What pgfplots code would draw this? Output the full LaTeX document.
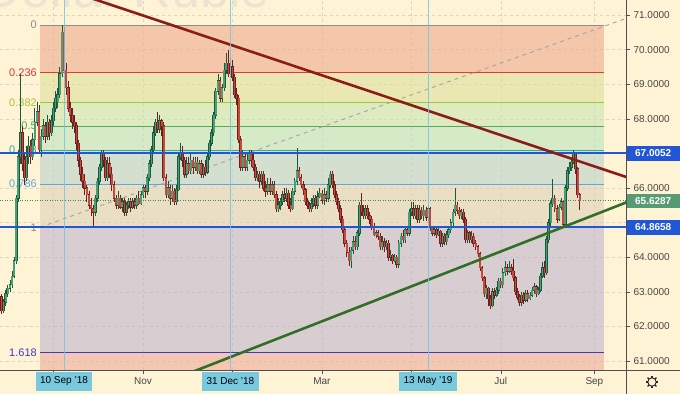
\documentclass[border=0pt]{standalone}
\usepackage{pgfplots}
\pgfplotsset{compat=1.18}
\usepackage{pgfplotstable}
\usetikzlibrary{backgrounds,calc}
\usepackage{fontspec}
\setmainfont{Liberation Sans}
\definecolor{bg}{RGB}{255,243,214}
\definecolor{gridc}{RGB}{220,212,192}
\definecolor{axc}{RGB}{80,80,80}
\definecolor{labc}{RGB}{70,70,70}
\definecolor{wm}{RGB}{236,228,208}
\definecolor{f1}{RGB}{238,171,141}
\definecolor{f2}{RGB}{223,223,157}
\definecolor{f3}{RGB}{200,228,177}
\definecolor{f4}{RGB}{187,228,191}
\definecolor{f5}{RGB}{185,211,204}
\definecolor{f6}{RGB}{220,210,184}
\definecolor{f7}{RGB}{190,180,204}
\definecolor{f8}{RGB}{237,171,157}
\definecolor{l0}{RGB}{140,140,140}
\definecolor{l236}{RGB}{229,57,53}
\definecolor{l382}{RGB}{160,200,50}
\definecolor{l5}{RGB}{76,175,80}
\definecolor{l618}{RGB}{38,176,150}
\definecolor{l786}{RGB}{90,170,225}
\definecolor{l1618}{RGB}{60,60,200}
\definecolor{blueL}{RGB}{33,86,214}
\definecolor{greenD}{RGB}{60,140,90}
\definecolor{greenBox}{RGB}{86,155,115}
\definecolor{cursorC}{RGB}{120,195,230}
\definecolor{dateC}{RGB}{120,200,222}
\definecolor{redT}{RGB}{140,28,22}
\definecolor{greenT}{RGB}{50,110,40}
\definecolor{upF}{RGB}{72,160,122}
\definecolor{upB}{RGB}{28,88,58}
\definecolor{dnF}{RGB}{200,72,58}
\definecolor{dnB}{RGB}{105,32,30}

\pgfplotstableread{
i o h l c
-30 62.85 62.95 62.35 62.45
-29 62.45 62.80 62.40 62.70
-28 62.70 63.05 62.60 62.95
-27 62.95 63.20 62.85 63.10
-26 63.10 63.35 63.00 63.20
-25 63.20 63.60 63.10 63.45
-24 63.45 64.00 63.40 63.90
-23 63.90 65.80 63.80 65.70
-22 65.70 67.10 65.60 66.90
-21 66.90 69.30 66.70 67.60
-20 67.60 67.80 66.50 66.70
-19 66.80 67.00 66.10 66.30
-18 66.30 67.20 66.20 66.90
-17 66.90 67.50 66.70 67.20
-16 67.20 67.40 66.70 66.90
-15 66.90 67.60 66.80 67.40
-14 67.40 68.30 67.20 67.90
-13 67.90 68.50 67.80 68.20
-12 68.20 68.40 67.00 67.10
-11 67.10 67.70 66.90 67.50
-10 67.50 68.00 67.40 67.80
-9 67.80 67.90 67.30 67.50
-8 67.50 68.10 67.40 67.90
-7 67.90 68.00 67.40 67.60
-6 67.60 68.10 67.50 67.95
-5 67.95 68.50 67.80 68.30
-4 68.30 68.80 68.20 68.60
-3 68.50 68.90 68.30 68.70
-2 68.70 69.50 68.60 69.30
-1 69.30 70.71 69.20 70.50
0 70.50 70.65 69.30 69.40
1 69.40 69.60 68.70 68.90
2 68.90 69.10 68.20 68.30
3 68.30 68.50 67.90 68.10
4 68.10 68.30 67.70 67.90
5 67.90 68.10 67.60 67.80
6 67.80 67.90 67.10 67.30
7 67.30 67.40 66.60 66.80
8 66.80 66.90 66.20 66.40
9 66.40 66.60 66.00 66.20
10 66.20 66.40 65.80 66.00
11 66.00 66.10 65.60 65.80
12 65.80 65.90 65.40 65.50
13 65.50 65.70 65.20 65.40
14 65.40 65.50 64.90 65.30
15 65.30 65.80 65.20 65.70
16 65.70 66.30 65.60 66.20
17 66.20 66.70 66.10 66.60
18 66.60 67.10 66.50 67.00
19 67.00 67.10 66.60 66.80
20 66.80 66.90 66.20 66.30
21 66.30 66.90 66.20 66.70
22 66.70 66.90 66.30 66.40
23 66.40 66.60 65.90 66.10
24 66.10 66.20 65.60 65.70
25 65.70 65.80 65.40 65.50
26 65.50 65.90 65.40 65.70
27 65.70 65.80 65.40 65.45
28 65.45 65.70 65.30 65.60
29 65.60 65.70 65.20 65.30
30 65.30 65.60 65.20 65.50
31 65.50 65.70 65.40 65.60
32 65.60 65.70 65.30 65.45
33 65.45 65.70 65.40 65.60
34 65.60 65.70 65.40 65.50
35 65.50 65.80 65.40 65.70
36 65.70 65.90 65.50 65.55
37 65.55 65.90 65.50 65.80
38 65.80 66.10 65.70 66.00
39 66.00 66.10 65.70 65.90
40 65.90 66.40 65.80 66.30
41 66.30 66.80 66.20 66.70
42 66.70 67.20 66.60 67.10
43 67.10 67.80 67.00 67.60
44 67.60 68.00 67.50 67.90
45 67.90 68.20 67.60 67.70
46 67.70 68.10 67.60 67.95
47 67.95 68.00 67.50 67.80
48 67.80 67.90 66.20 66.30
49 66.30 66.40 65.70 65.80
50 65.80 66.20 65.70 66.00
51 66.00 66.10 65.50 65.70
52 65.70 66.10 65.60 65.90
53 65.90 66.00 65.50 65.60
54 65.60 66.10 65.50 65.95
55 65.95 67.00 65.90 66.90
56 66.90 67.30 66.80 67.00
57 67.00 67.20 66.60 66.80
58 66.80 66.90 66.30 66.40
59 66.40 66.90 66.30 66.70
60 66.70 66.90 66.40 66.50
61 66.50 67.00 66.40 66.80
62 66.80 66.90 66.40 66.60
63 66.60 66.90 66.50 66.75
64 66.75 66.90 66.40 66.50
65 66.50 66.80 66.40 66.70
66 66.70 66.80 66.30 66.40
67 66.40 66.70 66.30 66.60
68 66.60 66.80 66.35 66.45
69 66.45 67.00 66.40 66.90
70 66.90 67.40 66.80 67.30
71 67.30 67.70 67.20 67.60
72 67.60 68.20 67.50 68.10
73 68.10 68.90 68.00 68.80
74 68.80 69.30 68.70 69.10
75 69.10 69.20 68.50 68.60
76 68.60 69.00 68.50 68.90
77 68.90 69.60 68.80 69.40
78 69.40 69.90 69.30 69.60
79 69.60 70.00 69.20 69.30
80 69.30 69.80 69.20 69.50
81 69.50 69.70 69.10 69.20
82 69.20 69.30 68.60 68.70
83 68.70 68.90 68.40 68.60
84 68.60 68.70 67.30 67.40
85 67.40 67.50 66.50 66.60
86 66.60 67.10 66.50 66.90
87 66.90 67.00 66.50 66.60
88 66.60 67.00 66.50 66.80
89 66.80 67.10 66.70 67.00
90 67.00 67.10 66.60 66.80
91 66.80 67.00 66.50 66.60
92 66.60 66.70 66.20 66.30
93 66.30 66.50 66.20 66.40
94 66.40 66.50 66.00 66.20
95 66.20 66.50 66.10 66.40
96 66.40 66.50 65.90 66.00
97 66.00 66.20 65.75 65.90
98 65.90 66.30 65.80 66.10
99 66.10 66.30 65.80 65.90
100 65.90 66.20 65.80 66.10
101 66.10 66.20 65.70 65.80
102 65.80 65.90 65.30 65.40
103 65.40 65.70 65.30 65.50
104 65.50 65.70 65.35 65.60
105 65.60 65.90 65.50 65.80
106 65.80 66.00 65.60 65.70
107 65.70 66.00 65.60 65.85
108 65.85 65.95 65.40 65.50
109 65.50 65.70 65.30 65.40
110 65.40 66.00 65.35 65.90
111 65.90 66.30 65.80 66.20
112 66.20 67.15 66.10 66.50
113 66.50 66.60 66.20 66.30
114 66.30 66.40 66.00 66.10
115 66.10 66.20 65.80 65.95
116 65.95 66.00 65.50 65.60
117 65.60 65.70 65.40 65.50
118 65.50 65.60 65.30 65.40
119 65.40 65.70 65.30 65.55
120 65.55 65.80 65.45 65.70
121 65.70 65.80 65.40 65.50
122 65.50 65.90 65.40 65.75
123 65.75 66.00 65.70 65.85
124 65.85 65.95 65.55 65.65
125 65.65 66.00 65.50 65.80
126 65.80 65.90 65.60 65.70
127 65.70 66.30 65.60 66.10
128 66.10 66.50 66.00 66.40
129 66.40 66.50 66.00 66.10
130 66.10 66.20 65.70 65.80
131 65.80 65.90 65.50 65.60
132 65.60 65.70 65.30 65.40
133 65.40 65.50 65.00 65.10
134 65.10 65.20 64.70 64.80
135 64.80 64.90 64.30 64.40
136 64.40 64.50 64.00 64.15
137 64.15 64.30 63.75 63.90
138 63.90 64.30 63.70 64.20
139 64.20 64.60 64.10 64.45
140 64.45 64.60 64.20 64.30
141 64.30 64.80 64.20 64.70
142 64.70 65.60 64.60 65.50
143 65.50 65.85 65.20 65.30
144 65.30 65.50 65.10 65.20
145 65.20 65.50 65.10 65.40
146 65.40 65.50 65.10 65.20
147 65.20 65.30 64.95 65.10
148 65.10 65.20 64.80 64.90
149 64.90 65.00 64.60 64.65
150 64.65 64.80 64.55 64.70
151 64.70 64.80 64.50 64.60
152 64.60 64.70 64.20 64.30
153 64.30 64.60 64.20 64.45
154 64.45 64.55 64.15 64.30
155 64.30 64.50 64.20 64.40
156 64.40 64.50 63.90 64.00
157 64.00 64.20 63.90 64.05
158 64.05 64.10 63.80 63.90
159 63.90 64.10 63.85 64.00
160 64.00 64.05 63.70 63.80
161 63.80 64.50 63.70 64.40
162 64.40 64.70 64.30 64.60
163 64.60 64.80 64.40 64.50
164 64.50 64.90 64.40 64.80
165 64.80 64.90 64.60 64.70
166 64.70 65.40 64.60 65.30
167 65.30 65.60 65.20 65.40
168 65.40 65.60 65.10 65.20
169 65.20 65.50 65.10 65.40
170 65.40 65.50 65.00 65.10
171 65.10 65.50 65.00 65.35
172 65.35 65.45 65.10 65.20
173 65.20 65.50 65.05 65.35
174 65.35 65.45 65.05 65.15
175 65.15 65.50 65.00 65.40
176 65.40 65.45 64.75 64.85
177 64.85 64.90 64.60 64.70
178 64.70 64.90 64.60 64.80
179 64.80 64.90 64.55 64.65
180 64.65 64.85 64.60 64.75
181 64.75 64.80 64.30 64.40
182 64.40 64.70 64.30 64.60
183 64.60 64.70 64.35 64.45
184 64.45 64.75 64.35 64.65
185 64.65 64.90 64.55 64.80
186 64.80 65.10 64.70 65.00
187 65.00 65.40 64.90 65.30
188 65.30 66.00 65.20 65.50
189 65.50 65.60 65.25 65.35
190 65.35 65.45 65.10 65.20
191 65.20 65.40 65.10 65.30
192 65.30 65.40 65.00 65.10
193 65.10 65.15 64.40 64.50
194 64.50 64.80 64.40 64.70
195 64.70 64.75 64.40 64.50
196 64.50 64.75 64.40 64.60
197 64.60 64.70 64.30 64.40
198 64.40 64.50 64.20 64.30
199 64.30 64.35 64.00 64.10
200 64.10 64.15 63.60 63.70
201 63.70 63.75 63.30 63.40
202 63.40 63.45 62.85 62.95
203 62.95 63.20 62.80 63.10
204 63.10 63.15 62.60 62.80
205 62.80 62.90 62.50 62.60
206 62.60 63.10 62.55 63.00
207 63.00 63.10 62.80 62.90
208 62.90 63.15 62.85 63.05
209 63.05 63.40 62.95 63.30
210 63.30 63.40 63.10 63.20
211 63.20 63.70 63.10 63.55
212 63.55 63.90 63.45 63.70
213 63.70 63.80 63.50 63.60
214 63.60 63.90 63.55 63.70
215 63.70 63.80 63.50 63.60
216 63.60 63.95 63.30 63.40
217 63.40 63.45 62.90 63.00
218 63.00 63.10 62.75 62.85
219 62.85 62.95 62.60 62.70
220 62.70 63.00 62.60 62.90
221 62.90 63.00 62.65 62.75
222 62.75 63.05 62.70 62.95
223 62.95 63.05 62.70 62.80
224 62.80 63.00 62.75 62.90
225 62.90 63.15 62.85 63.05
226 63.05 63.25 62.95 63.15
227 63.15 63.20 62.85 62.95
228 62.95 63.15 62.90 63.05
229 63.05 63.55 63.00 63.45
230 63.45 63.85 63.40 63.70
231 63.70 63.90 63.40 63.55
232 63.55 64.60 63.50 64.50
233 64.50 65.10 64.40 65.00
234 65.00 65.65 64.90 65.55
235 65.55 66.25 65.45 65.70
236 65.70 65.80 65.30 65.40
237 65.40 65.50 65.00 65.10
238 65.10 65.55 65.05 65.45
239 65.45 65.70 65.35 65.60
240 65.60 65.65 64.85 64.95
241 64.95 66.10 64.87 66.00
242 66.00 66.60 65.90 66.50
243 66.50 66.75 66.40 66.60
244 66.60 66.90 66.50 66.75
245 66.75 67.10 66.70 67.00
246 67.00 67.05 66.40 66.55
247 66.55 66.60 65.70 65.80
248 65.80 65.85 65.35 65.6287
}\candles

\newcommand{\tvf}{\fontsize{10}{12}\selectfont}
\newcommand{\fibf}{\fontsize{11}{13}\selectfont}
\pgfplotsset{
  upc/.style={forget plot, mark=none, -, restrict expr to domain={\thisrow{c}-\thisrow{o}}{0:50}},
  dnc/.style={forget plot, mark=none, -, restrict expr to domain={\thisrow{c}-\thisrow{o}}{-50:-0.00001}},
}

\begin{document}
\begin{tikzpicture}[x=1pt,y=1pt]
\begin{axis}[
  name=ax, scale only axis, width=626pt, height=370pt,
  xmin=-30.77, xmax=270.19, ymin=60.74, ymax=71.434,
  axis x line*=bottom, axis y line*=right,
  axis line style={draw=axc, line width=0.8pt, -},
  clip mode=individual,
  xtick={-5,38,81,124,167,210,255},
  xticklabels={,Nov,,Mar,,Jul,Sep},
  ytick={61,62,...,71},
  yticklabels={61.0000,62.0000,63.0000,64.0000,,66.0000,,68.0000,69.0000,70.0000,71.0000},
  tick align=outside, major tick length=4pt,
  tick style={draw=axc, line width=0.6pt},
  grid=major,
  grid style={draw=gridc, dash pattern=on 3pt off 3pt, line width=0.6pt},
  ticklabel style={font=\tvf, text=labc},
]
\coordinate (BL) at (axis cs:-30.77,60.74);
\coordinate (TR) at (axis cs:270.19,71.434);
% Fibonacci bands
\addplot[draw=none, fill=f1, fill opacity=0.6, forget plot] coordinates {(-11.5,70.71) (259.6,70.71) (259.6,69.331) (-11.5,69.331)};
\addplot[draw=none, fill=f2, fill opacity=0.6, forget plot] coordinates {(-11.5,69.331) (259.6,69.331) (259.6,68.4775) (-11.5,68.4775)};
\addplot[draw=none, fill=f3, fill opacity=0.6, forget plot] coordinates {(-11.5,68.4775) (259.6,68.4775) (259.6,67.7879) (-11.5,67.7879)};
\addplot[draw=none, fill=f4, fill opacity=0.6, forget plot] coordinates {(-11.5,67.7879) (259.6,67.7879) (259.6,67.0983) (-11.5,67.0983)};
\addplot[draw=none, fill=f5, fill opacity=0.6, forget plot] coordinates {(-11.5,67.0983) (259.6,67.0983) (259.6,66.1165) (-11.5,66.1165)};
\addplot[draw=none, fill=f6, fill opacity=0.6, forget plot] coordinates {(-11.5,66.1165) (259.6,66.1165) (259.6,64.8658) (-11.5,64.8658)};
\addplot[draw=none, fill=f7, fill opacity=0.6, forget plot] coordinates {(-11.5,64.8658) (259.6,64.8658) (259.6,61.2541) (-11.5,61.2541)};
\addplot[draw=none, fill=f8, fill opacity=0.6, forget plot] coordinates {(-11.5,61.2541) (259.6,61.2541) (259.6,60.74) (-11.5,60.74)};
% Fibonacci level lines
\addplot[l0, line width=0.9pt, forget plot] coordinates {(-11.5,70.71) (259.6,70.71)};
\addplot[l236, line width=0.9pt, forget plot] coordinates {(-11.5,69.331) (259.6,69.331)};
\addplot[l382, line width=0.9pt, forget plot] coordinates {(-11.5,68.4775) (259.6,68.4775)};
\addplot[l5, line width=0.9pt, forget plot] coordinates {(-11.5,67.7879) (259.6,67.7879)};
\addplot[l618, line width=0.9pt, forget plot] coordinates {(-11.5,67.0983) (259.6,67.0983)};
\addplot[l786, line width=0.9pt, forget plot] coordinates {(-11.5,66.1165) (259.6,66.1165)};
\addplot[l0, line width=0.9pt, forget plot] coordinates {(-11.5,64.8658) (259.6,64.8658)};
\addplot[l1618, line width=0.9pt, forget plot] coordinates {(-11.5,61.2541) (259.6,61.2541)};
\addplot[l0!80, dash pattern=on 4pt off 4pt, line width=0.9pt, forget plot] coordinates {(-11.5,64.8658) (270.19,70.90)};
% fib labels
\node[anchor=east, text=l0, font=\fibf, inner sep=0] at (axis cs:-13,70.71) {0};
\node[anchor=east, text=l236, font=\fibf, inner sep=0] at (axis cs:-13,69.331) {0.236};
\node[anchor=east, text=l382, font=\fibf, inner sep=0] at (axis cs:-13,68.4775) {0.382};
\node[anchor=east, text=l5, font=\fibf, inner sep=0] at (axis cs:-13,67.7879) {0.5};
\node[anchor=east, text=l618, font=\fibf, inner sep=0] at (axis cs:-13,67.0983) {0.618};
\node[anchor=east, text=l786, font=\fibf, inner sep=0] at (axis cs:-13,66.1165) {0.786};
\node[anchor=east, text=l0, font=\fibf, inner sep=0] at (axis cs:-13,64.8658) {1};
\node[anchor=east, text=l1618, font=\fibf, inner sep=0] at (axis cs:-13,61.2541) {1.618};
% candles: wicks
\addplot[upc, draw=upB, line width=0.8pt, quiver={u=0, v=\thisrow{h}-\thisrow{l}}] table[x=i, y=l] {\candles};
\addplot[dnc, draw=dnB, line width=0.8pt, quiver={u=0, v=\thisrow{h}-\thisrow{l}}] table[x=i, y=l] {\candles};
% bodies: border
\addplot[upc, draw=upB, line width=2.7pt, quiver={u=0, v={abs(\thisrow{c}-\thisrow{o})+0.03}}] table[x=i, y expr={min(\thisrow{o},\thisrow{c})-0.015}] {\candles};
\addplot[dnc, draw=dnB, line width=2.7pt, quiver={u=0, v={abs(\thisrow{c}-\thisrow{o})+0.03}}] table[x=i, y expr={min(\thisrow{o},\thisrow{c})-0.015}] {\candles};
% bodies: fill
\addplot[upc, draw=upF, line width=1.6pt, quiver={u=0, v={abs(\thisrow{c}-\thisrow{o})}}] table[x=i, y expr={min(\thisrow{o},\thisrow{c})}] {\candles};
\addplot[dnc, draw=dnF, line width=1.6pt, quiver={u=0, v={abs(\thisrow{c}-\thisrow{o})}}] table[x=i, y expr={min(\thisrow{o},\thisrow{c})}] {\candles};
% horizontal lines
\addplot[blueL, line width=1.8pt, forget plot] coordinates {(-30.77,67.0052) (270.19,67.0052)};
\addplot[blueL, line width=1.8pt, forget plot] coordinates {(-30.77,64.8658) (270.19,64.8658)};
\addplot[greenD, dash pattern=on 1pt off 1.5pt, line width=0.8pt, forget plot] coordinates {(-30.77,65.6287) (270.19,65.6287)};
% trend lines
\addplot[redT, line width=2.6pt, forget plot] coordinates {(0,71.749) (275,66.224)};
\addplot[greenT, line width=2.6pt, forget plot] coordinates {(50,60.409) (275,65.693)};
% cursor lines
\addplot[cursorC, line width=0.8pt, opacity=0.85, forget plot] coordinates {(0,60.74) (0,71.434)};
\addplot[cursorC, line width=0.8pt, opacity=0.85, forget plot] coordinates {(80,60.74) (80,71.434)};
\addplot[cursorC, line width=0.8pt, opacity=0.85, forget plot] coordinates {(175,60.74) (175,71.434)};
% price labels
\node[anchor=west, fill=blueL, text=white, font=\tvf\bfseries, minimum height=15pt, minimum width=54pt, inner sep=0] at (axis cs:270.19,67.0052) {67.0052};
\node[anchor=west, fill=greenBox, text=white, font=\tvf\bfseries, minimum height=14pt, minimum width=54pt, inner sep=0] at (axis cs:270.19,65.6287) {65.6287};
\node[anchor=west, fill=blueL, text=white, font=\tvf\bfseries, minimum height=15pt, minimum width=54pt, inner sep=0] at (axis cs:270.19,64.8658) {64.8658};
% date labels
\node[fill=dateC, text=black, font=\tvf, minimum height=19pt, inner xsep=4.5pt, inner ysep=0, yshift=-11.5pt] at (axis cs:0,60.74) {10 Sep '18};
\node[fill=dateC, text=black, font=\tvf, minimum height=19pt, inner xsep=4.5pt, inner ysep=0, yshift=-11.5pt] at (axis cs:80,60.74) {31 Dec '18};
\node[fill=dateC, text=black, font=\tvf, minimum height=19pt, inner xsep=4.5pt, inner ysep=0, yshift=-11.5pt] at (axis cs:175,60.74) {13 May '19};
\end{axis}
\begin{scope}[on background layer]
\fill[bg] ($(BL)+(0,-24)$) rectangle ($(TR)+(54,0)$);
\begin{scope}
\clip (BL) rectangle (TR);
\node[anchor=base east, font=\fontsize{52}{60}\selectfont, text=wm, inner sep=0] at ($(BL)+(270,362)$) {Dollar Ruble};
\end{scope}
\end{scope}
\draw[axc, line width=0.8pt] (BL) -- ($(BL)+(680,0)$);
\draw[axc, line width=0.8pt] ($(TR)$) -- ($(TR)+(0,-394)$);
% gear icon
\begin{scope}[shift={($(BL)+(652,-12)$)}]
\draw[black!85, line width=0.9pt] (0,0) circle (4.2);
\foreach \a in {0,45,...,315} \draw[black!85, line width=1.3pt] (\a:4.0) -- (\a:6.3);
\end{scope}
\pgfresetboundingbox
\path[use as bounding box] ($(BL)+(0,-24)$) rectangle ($(TR)+(54,0)$);
\end{tikzpicture}
\end{document}
